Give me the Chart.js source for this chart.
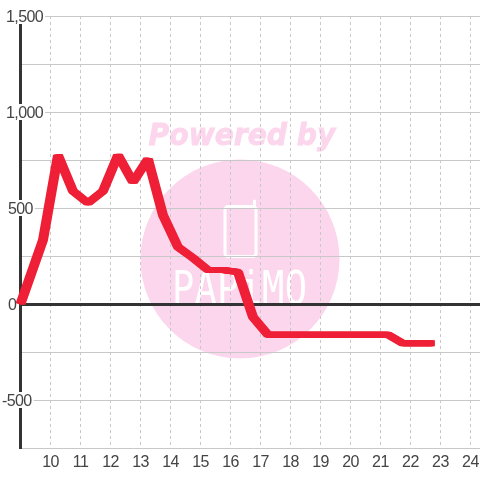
<!DOCTYPE html>
<html>
<head>
<meta charset="utf-8">
<style>html,body{margin:0;padding:0;background:#fff}#w{width:480px;height:480px}</style>
<script src="https://cdn.jsdelivr.net/npm/chart.js@4/dist/chart.umd.min.js"></script>
</head>
<body>
<div id="w"><canvas id="c" width="480" height="480"></canvas></div>
<script>
const hours = [9, 9.75, 10.25, 10.75, 11.25, 11.75, 12.25, 12.75, 13.25, 13.75, 14.25, 14.75, 15.25, 15.75, 16.25, 16.75, 17.25, 17.75, 18.25, 18.75, 19.25, 19.75, 20.25, 20.75, 21.25, 21.75, 22.25, 22.75];
const values = [0, 333, 775, 588, 526, 588, 775, 635, 755, 463, 297, 240, 177, 177, 167, -68, -160, -160, -160, -160, -160, -160, -160, -160, -160, -205, -205, -205];
const xTicks = [10, 11, 12, 13, 14, 15, 16, 17, 18, 19, 20, 21, 22, 23, 24];
const yLabels = [1500, 1000, 500, 0, -500];
const watermarkTitle = "Powered by";
const watermarkLogo = "PAPiMO";

const fontFamily = '"Liberation Sans", Arial, sans-serif';
const labelLeft = {"1500": 6, "1000": 6, "500": 8, "0": 8, "-500": 2};
const fmt = v => v.toLocaleString('en-US');

const watermark = {
  id: 'watermark',
  beforeDraw(chart) {
    const g = chart.ctx;
    g.save();
    g.fillStyle = '#fcd6ec';
    g.strokeStyle = '#fcd6ec';
    g.beginPath(); g.arc(240, 259, 99.5, 0, Math.PI * 2); g.fill();
    g.textAlign = 'center'; g.textBaseline = 'alphabetic';
    g.save();
    g.translate(242, 145);
    g.scale(0.94, 1);
    g.font = 'italic bold 30px "DejaVu Sans", sans-serif';
    g.lineWidth = 0.8;
    g.fillText(watermarkTitle, 0, 0);
    g.strokeText(watermarkTitle, 0, 0);
    g.restore();
    g.strokeStyle = '#fff'; g.lineWidth = 3;
    g.beginPath(); g.roundRect(225, 206.5, 31, 50, 3); g.stroke();
    g.lineCap = 'round';
    g.beginPath(); g.moveTo(254.5, 206); g.lineTo(254.5, 201); g.stroke();
    g.fillStyle = '#fff';
    g.save();
    g.translate(172, 304);
    g.scale(1.03, 1.28);
    g.font = '36px "DejaVu Sans Mono", monospace';
    g.textAlign = 'left';
    g.letterSpacing = '0.2px';
    g.fillText(watermarkLogo, 0, 0);
    g.restore();
    g.restore();
    g.letterSpacing = '-0.6px';
  }
};

const widePen = {
  id: 'widePen',
  beforeDatasetDraw(chart, args) {
    const g = chart.ctx, meta = chart.getDatasetMeta(args.index);
    [-2, -1, 1, 2].forEach(dx => {
      g.save();
      g.translate(dx, 0);
      meta.controller.draw();
      g.restore();
    });
  }
};

const yTickLabels = {
  id: 'yTickLabels',
  afterDatasetsDraw(chart) {
    const g = chart.ctx, y = chart.scales.y;
    g.save();
    g.font = '16px ' + fontFamily;
    g.textAlign = 'left'; g.textBaseline = 'middle';
    yLabels.forEach(v => {
      const t = fmt(v), px = y.getPixelForValue(v), l = labelLeft[v], w = g.measureText(t).width;
      if (v !== 0) { g.fillStyle = '#fff'; g.fillRect(l - 1, px - 8, w + 3, 16); }
      g.fillStyle = '#444';
      g.fillText(t, l, px + 1.5);
    });
    g.restore();
  }
};

new Chart(document.getElementById('c'), {
  type: 'line',
  data: { datasets: [{
    data: hours.map((h, i) => ({x: h, y: values[i]})),
    borderColor: '#ee1f36',
    borderWidth: 6,
    borderJoinStyle: 'bevel',
    borderCapStyle: 'butt',
    pointRadius: 0,
    tension: 0,
    fill: false,
    clip: false
  }]},
  options: {
    responsive: false,
    animation: false,
    layout: { padding: { left: 20.5, top: 16, right: 0, bottom: 0 } },
    plugins: { legend: { display: false }, title: { display: false }, tooltip: { enabled: false } },
    scales: {
      x: {
        type: 'linear', min: 9, max: 24.32,
        afterBuildTicks: s => { s.ticks = xTicks.map(v => ({value: v})); },
        afterFit: s => { s.height = 32; s.paddingRight = 0; s.paddingLeft = 0; },
        grid: { color: '#c8c8c8', lineWidth: 1, drawTicks: false },
        border: { color: '#c8c8c8', width: 1, dash: [3, 3] },
        ticks: { autoSkip: false, maxRotation: 0, padding: 5, color: '#444', font: { family: fontFamily, size: 16 }, callback: v => String(v) }
      },
      y: {
        type: 'linear', min: -750, max: 1500,
        afterFit: s => { s.width = 0; s.paddingTop = 0; s.paddingBottom = 0; },
        ticks: { stepSize: 250, display: false },
        grid: {
          drawTicks: false,
          color: c => c.tick && c.tick.value === 0 ? '#333333' : '#c8c8c8',
          lineWidth: c => c.tick && c.tick.value === 0 ? 3 : 1
        },
        border: { color: '#333333', width: 3 }
      }
    }
  },
  plugins: [watermark, widePen, yTickLabels]
});
</script>
</body>
</html>
